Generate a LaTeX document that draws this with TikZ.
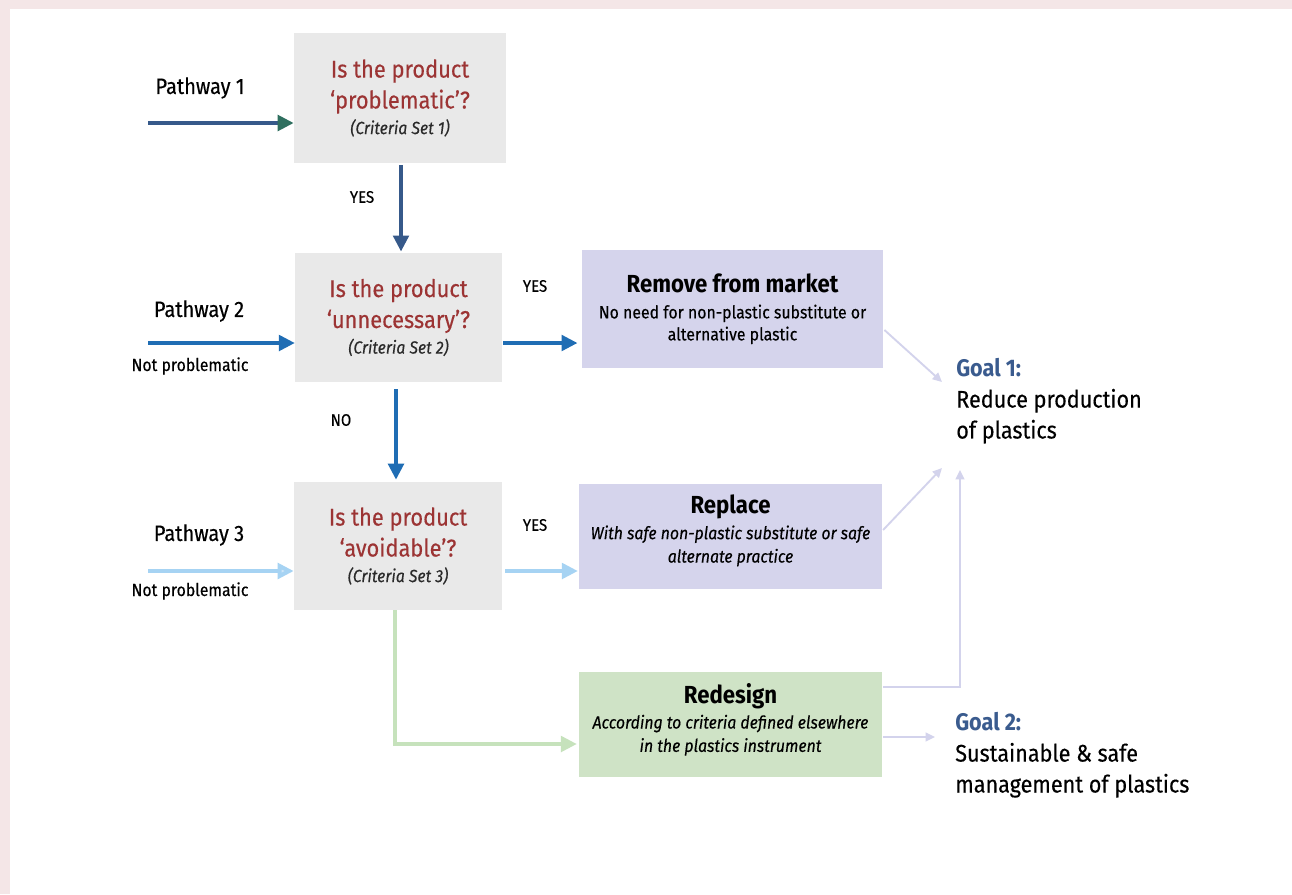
\documentclass[tikz,border=0pt]{standalone}
\usepackage{fontspec}
\setmainfont{Fira Sans}[FakeStretch=0.9, UprightFeatures={FakeBold=0.35}, ItalicFeatures={FakeBold=0.35}]
\usetikzlibrary{arrows.meta,calc}
\definecolor{pinkbg}{HTML}{F4E6E7}
\definecolor{qgray}{HTML}{E9E9E9}
\definecolor{lav}{HTML}{D5D4EC}
\definecolor{grn}{HTML}{CFE3C6}
\definecolor{dblue}{HTML}{36598A}
\definecolor{dgreen}{HTML}{2F6F5F}
\definecolor{mblue}{HTML}{1F6DB4}
\definecolor{lblue}{HTML}{A6D3F3}
\definecolor{lbluein}{HTML}{CFE7F9}
\definecolor{gline}{HTML}{C6E2BC}
\definecolor{lavline}{HTML}{D3D3EC}
\definecolor{qred}{HTML}{9C3434}
\definecolor{goalblue}{HTML}{3A5B8E}
\definecolor{crit}{HTML}{2A2A2A}
\newcommand{\qtf}{\color{qred}\fontsize{18.2}{23.2}\selectfont}
\newcommand{\crf}{\color{crit}\fontsize{13.2}{16}\selectfont\itshape}
\newcommand{\atf}{\bfseries\fontsize{18.5}{20}\selectfont}
\newcommand{\asf}{\fontsize{13.2}{16.5}\selectfont}
\newcommand{\aif}{\itshape\fontsize{13.2}{16.5}\selectfont}
\newcommand{\gbf}{\bfseries\color{goalblue}\fontsize{18}{23.2}\selectfont}
\newcommand{\gnf}{\fontsize{18}{23.2}\selectfont}
\tikzset{
  boxbase/.style={rectangle, inner sep=0pt, align=center},
  qstyle/.style={boxbase, fill=qgray, font=\fontsize{18.2}{23.2}\selectfont},
  astyle/.style={boxbase, fill=lav, font=\fontsize{13.2}{16.5}\selectfont},
  gstyle/.style={boxbase, fill=grn, font=\fontsize{13.2}{16.5}\selectfont},
  lbl/.style={inner sep=0pt, font=\fontsize{16.7}{18}\selectfont},
  smalllbl/.style={inner sep=0pt, font=\fontsize{13.2}{14}\selectfont},
  yn/.style={inner sep=0pt, font=\fontsize{12.5}{12}\selectfont},
  goal/.style={inner sep=0pt, anchor=west, align=left, font=\fontsize{18}{23.2}\selectfont},
  thickarr/.style={line width=3.6pt},
  thinarr/.style={line width=1.4pt, draw=lavline, -{Triangle[length=7pt,width=6.5pt]}},
}
\begin{document}
\begin{tikzpicture}[x=0.75pt,y=-0.75pt]
\fill[pinkbg] (0,0) rectangle (1292,894);
\fill[white] (10,9) rectangle (1292,894);
\useasboundingbox (0,0) rectangle (1292,894);

% question boxes
\node[qstyle, minimum width=159pt, minimum height=97.5pt] (b1) at (400,98)
  {{\qtf Is the product}\\ {\qtf ‘problematic’?}\\[-4pt] {\crf (Criteria Set 1)}};
\node[qstyle, minimum width=155pt, minimum height=97pt] (b2) at (398.5,317.5)
  {{\qtf Is the product}\\ {\qtf ‘unnecessary’?}\\[-4pt] {\crf (Criteria Set 2)}};
\node[qstyle, minimum width=156pt, minimum height=96pt] (b3) at (398,546)
  {{\qtf Is the product}\\ {\qtf ‘avoidable’?}\\[-4pt] {\crf (Criteria Set 3)}};

% action boxes
\node[astyle, minimum width=226pt, minimum height=88.5pt] (rm) at (732.5,309)
  {{\atf Remove from market}\\[3pt]
   {\asf No need for non-plastic substitute or}\\ {\asf alternative plastic\rule[-3pt]{0pt}{0pt}}};
\node[astyle, minimum width=227pt, minimum height=79pt] (rp) at (730.5,536.5)
  {{\atf Replace}\\[3pt]
   {\aif With safe non-plastic substitute or safe}\\[1pt] {\aif alternate practice\rule[-12pt]{0pt}{0pt}}};
\node[gstyle, minimum width=227pt, minimum height=79pt] (rd) at (730.5,724.5)
  {{\atf Redesign}\\[2pt]
   {\aif According to criteria defined elsewhere}\\[1pt] {\aif in the plastics instrument\rule[-10pt]{0pt}{0pt}}};

% labels
\node[lbl] (p1) at (200,88) {Pathway 1};
\node[lbl] (p2) at (199,311) {Pathway 2};
\node[smalllbl] (np2) at (190,366) {Not problematic};
\node[lbl] (p3) at (199,535) {Pathway 3};
\node[smalllbl] (np3) at (190,591) {Not problematic};
\node[yn] (y1) at (362,197) {YES};
\node[yn] (y2) at (535,286) {YES};
\node[yn] (n2) at (341,420) {NO};
\node[yn] (y3) at (535,525) {YES};

% goals
\node[goal] (g1) at (956,401) {{\gbf Goal 1:}\\ {\gnf Reduce production}\\ {\gnf of plastics}};
\node[goal] (g2) at (955,755) {{\gbf Goal 2:}\\ {\gnf Sustainable \& safe}\\ {\gnf management of plastics}};

% coordinates
\coordinate (s1) at (148,123);
\coordinate (s2) at (148,343);
\coordinate (s3) at (148,571);
\coordinate (gin1) at (942,382);
\coordinate (gin2) at (942,468);
\coordinate (gin3) at (960,470);
\coordinate (gin4) at (935,737);
\coordinate (corner) at (960,687);
\coordinate (gy) at (0,744);
\coordinate (ra) at (0,330);
\coordinate (rb) at (0,530);

% connectors
\draw[thickarr, draw=dblue, -{Triangle[length=12pt,width=11.5pt,color=dgreen]}] (s1) -- (s1 -| b1.west);
\draw[thickarr, draw=dblue, -{Triangle[length=12pt,width=11.5pt,color=dblue]}] ($(b1.south)+(1,2)$) -- ($(b2.north)+(2.5,-1)$);
\draw[thickarr, draw=mblue, -{Triangle[length=12pt,width=11.5pt,color=mblue]}] (s2) -- (s2 -| b2.west);
\draw[thickarr, draw=mblue, -{Triangle[length=12pt,width=11.5pt,color=mblue]}] ($(b2.east |- s2)+(1,0)$) -- ($(rm.west |- s2)+(-4,0)$);
\draw[thickarr, draw=mblue, -{Triangle[length=12pt,width=11.5pt,color=mblue]}] ($(b2.south)+(-2.5,7)$) -- ($(b3.north)+(-2,-2)$);
\draw[thickarr, draw=lblue, -{Triangle[length=12pt,width=11.5pt,color=lblue,fill=lbluein]}] (s3) -- (s3 -| b3.west);
\draw[thickarr, draw=lblue, -{Triangle[length=12pt,width=11.5pt,color=lblue]}] ($(b3.east |- s3)+(3,0)$) -- ($(rp.west |- s3)+(-1,0)$);
\draw[thickarr, draw=gline, -{Triangle[length=12pt,width=11.5pt,color=gline]}] ($(b3.south)+(-3,0)$) |- ($(rd.west |- gy)+(-2,0)$);

\draw[thinarr] ($(rm.east |- ra)+(1,0)$) -- (gin1);
\draw[thinarr] ($(rp.east |- rb)+(1,0)$) -- (gin2);
\draw[thinarr] ($(rd.east |- corner)+(1,0)$) -- (corner) -- (gin3);
\draw[thinarr] ($(rd.east |- gin4)+(1,0)$) -- (gin4);
\end{tikzpicture}
\end{document}
